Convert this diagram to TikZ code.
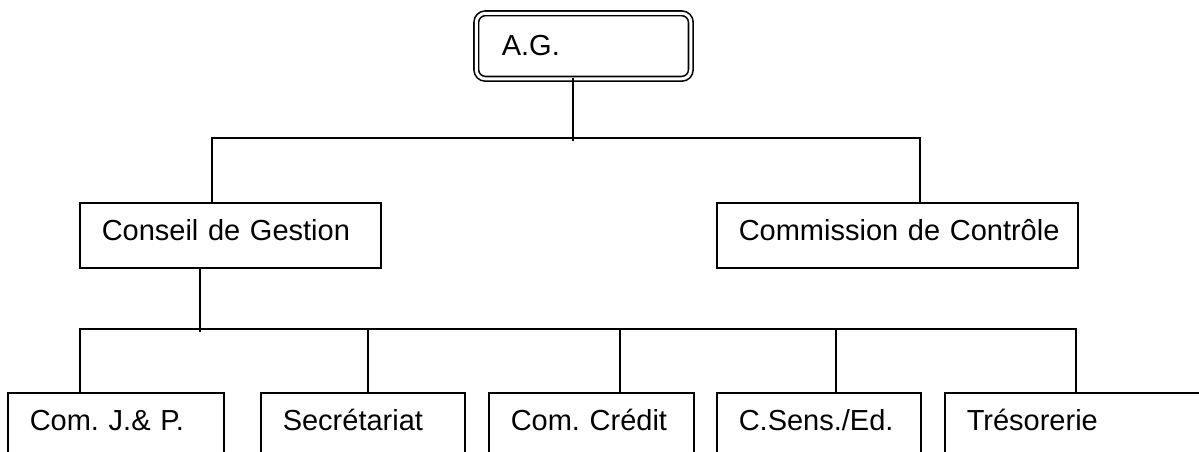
\documentclass[tikz,border=0pt]{standalone}
\usepackage{fontspec}
\setmainfont{Liberation Sans}
\frenchspacing
\begin{document}
\begin{tikzpicture}[x=1pt,y=-1pt,line width=1.5pt,
  txt/.style={font=\fontsize{29}{34}\selectfont},
  box/.style={draw, rectangle, anchor=north west, inner xsep=22pt, inner ysep=0pt,
    text height=38pt, text depth=27pt, align=left, txt},
  lowbox/.style={box, text depth=60pt},
  topbox/.style={draw, rectangle, rounded corners=9pt, double, double distance=3pt,
    line width=1.6pt, anchor=north west, inner xsep=25.5pt, inner ysep=0pt,
    text height=42.5pt, text depth=23pt, align=left, txt},
  link/.style={draw, line width=1.5pt}]
\useasboundingbox (0,0) rectangle (1199,452);
\clip (0,0) rectangle (1199,452);
% nodes
\node[topbox, text width=163.5pt] (ag) at (475.5,12.5) {A.G.};
\node[box, text width=257pt] (cg) at (79,202) {\mbox{Conseil de Gestion}};
\node[box, text width=317pt] (cc) at (716,202) {\mbox{Commission de Contrôle}};
\node[lowbox, text width=172pt] (b1) at (7,392) {\mbox{Com. J.\& P.}};
\node[lowbox, text width=160pt] (b2) at (260,392) {\mbox{Secrétariat}};
\node[lowbox, text width=161pt] (b3) at (488,392) {\mbox{Com. Crédit}};
\node[lowbox, text width=160pt] (b4) at (716,392) {\mbox{C.Sens./Ed.}};
\node[lowbox, text width=262pt] (b5) at (944,392) {\mbox{Trésorerie}};
% bus coordinates
\coordinate (agdrop) at (573,141);
\coordinate (busL) at (212,138);
\coordinate (busR) at (920,138);
\coordinate (cgdrop) at (200,332);
\coordinate (bus2L) at (80,329);
\coordinate (bus2R) at (1076,329);
\coordinate (d2) at (368,329);
\coordinate (d3) at (620,329);
\coordinate (d4) at (836,329);
% connectors
\draw[link] ([yshift=2pt]ag.south -| agdrop) -- (agdrop);
\draw[link] (busL |- cg.north) -- (busL) -- (busR) -- (busR |- cc.north);
\draw[link] (cgdrop |- cg.south) -- (cgdrop);
\draw[link] (bus2L |- b1.north) -- (bus2L) -- (bus2R) -- (bus2R |- b5.north);
\draw[link] (d2) -- (d2 |- b2.north);
\draw[link] (d3) -- (d3 |- b3.north);
\draw[link] (d4) -- (d4 |- b4.north);
\end{tikzpicture}
\end{document}
